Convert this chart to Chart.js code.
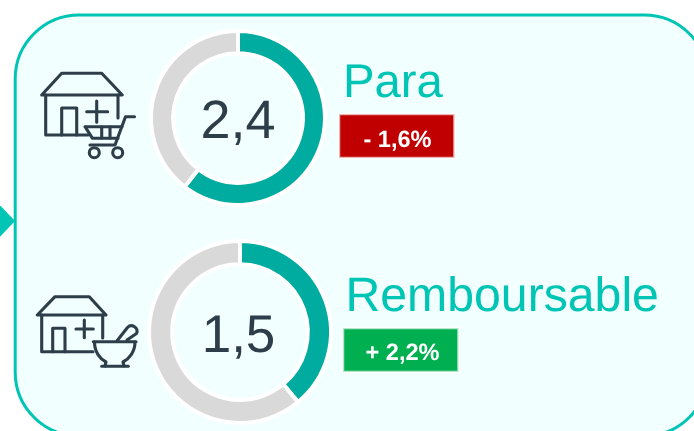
<!DOCTYPE html>
<html>
<head>
<meta charset="utf-8">
<script src="https://cdn.jsdelivr.net/npm/chart.js@4"></script>
<style>
html,body{margin:0;padding:0;background:#fff;width:694px;height:431px;overflow:hidden}
#wrap{position:relative;width:694px;height:431px;overflow:hidden}
svg{position:absolute;left:0;top:0}
canvas{position:absolute}
text{font-family:"Liberation Sans",Arial,sans-serif;text-rendering:geometricPrecision}
.ico{fill:none;stroke:#2d3e4a;stroke-width:3.1;stroke-linecap:round;stroke-linejoin:round}
</style>
</head>
<body>
<div id="wrap">
<svg width="694" height="431" viewBox="0 0 694 431">
  <polygon points="-3,202 15,221 -3,240" fill="#00c4b4"/>
  <rect x="15.2" y="15" width="693" height="421" rx="64" ry="64" fill="#f2ffff" stroke="#00c4b4" stroke-width="3"/>

  <g class="ico">
    <path d="M41.7 95 L61.7 73.3 L101.7 73.3 L122.3 95 Z"/>
    <path d="M45.7 95 V135 H88 M118 95 V118"/>
    <path d="M61.7 135 V108 H76.7 V135"/>
    <path d="M86.7 111.7 H107.7 M96.7 101 V122.3"/>
    <path d="M134.5 116.7 H125.5 L115 145 H90"/>
    <path d="M85 126.7 H122 M85 126.7 L92.5 138.3 H118"/>
    <path d="M101.7 127 V138 M110 127 V138"/>
    <circle cx="94.3" cy="152.7" r="5"/>
    <circle cx="117.7" cy="152.7" r="5"/>
  </g>

  <g class="ico">
    <path d="M37.3 315 L55 296.7 L89.3 296.7 L106 315 Z"/>
    <path d="M41.7 315 V351.7 H93 M102.7 315 V338"/>
    <path d="M52.7 351.7 V328.3 H65 V351.7"/>
    <path d="M76 329 H93.3 M84.3 320 V337.7"/>
    <path d="M93.3 341.7 H136"/>
    <path d="M94.5 342 C94.5 352 100 359 106 362 L105 366 M135 342 C135 352 129 359 123 362 L124 366"/>
    <path d="M101.7 366.3 H128.3"/>
    <path d="M117.3 340.5 L127.5 327.5 A5.5 5.5 0 0 1 136.5 333.5 L127 340"/>
  </g>

  <rect x="339" y="114" width="115.5" height="44" fill="#c00000" stroke="#fff" stroke-width="2.5" stroke-opacity="0.7"/>
  <rect x="343" y="328" width="115.5" height="44" fill="#00b050" stroke="#fff" stroke-width="2.5" stroke-opacity="0.7"/>
</svg>
<canvas id="c0" width="220" height="220" style="left:128px;top:8px"></canvas>
<canvas id="c1" width="220" height="220" style="left:130px;top:222px"></canvas>
<svg width="694" height="431" viewBox="0 0 694 431" id="over"></svg>
</div>
<script>
const categories = ["Para", "Remboursable"];
const centerLabels = ["2,4", "1,5"];
const changeLabels = ["- 1,6%", "+ 2,2%"];
const shareTeal = [60.5, 39];
const shareGrey = [39.5, 61];
const segmentColors = ["#00ab9f", "#d9d9d9"];
const ringRadii = [87, 91];

shareTeal.forEach((v, i) => {
  new Chart(document.getElementById("c" + i), {
    type: "doughnut",
    data: {
      labels: ["part", "reste"],
      datasets: [{
        data: [v, shareGrey[i]],
        backgroundColor: segmentColors,
        borderColor: "#ffffff",
        borderWidth: 4
      }]
    },
    options: {
      responsive: false,
      animation: false,
      cutout: "74.5%",
      radius: ringRadii[i],
      layout: { padding: 0 },
      plugins: { legend: { display: false }, tooltip: { enabled: false } }
    }
  });
});

const NS = "http://www.w3.org/2000/svg";
const over = document.getElementById("over");
function addText(str, x, y, size, fill, weight, anchor) {
  const t = document.createElementNS(NS, "text");
  t.textContent = str;
  t.setAttribute("x", x);
  t.setAttribute("y", y);
  t.setAttribute("font-size", size);
  t.setAttribute("fill", fill);
  t.setAttribute("font-weight", weight);
  t.setAttribute("text-anchor", anchor);
  over.appendChild(t);
}
const titleX = [343, 345.5], titleY = [97.3, 310.7];
const titleSize = [47.3, 48.2];
const centerX = [238, 238.5], centerY = [138.3, 352];
const centerSize = [54, 53];
const badgeX = [397.5, 402.5], badgeY = [146.7, 360];
categories.forEach((c, i) => {
  addText(c, titleX[i], titleY[i], titleSize[i], "#00c4b4", "400", "start");
  addText(centerLabels[i], centerX[i], centerY[i], centerSize[i], "#2d3e4a", "400", "middle");
  addText(changeLabels[i], badgeX[i], badgeY[i], 23.6, "#ffffff", "700", "middle");
});
</script>
</body>
</html>
